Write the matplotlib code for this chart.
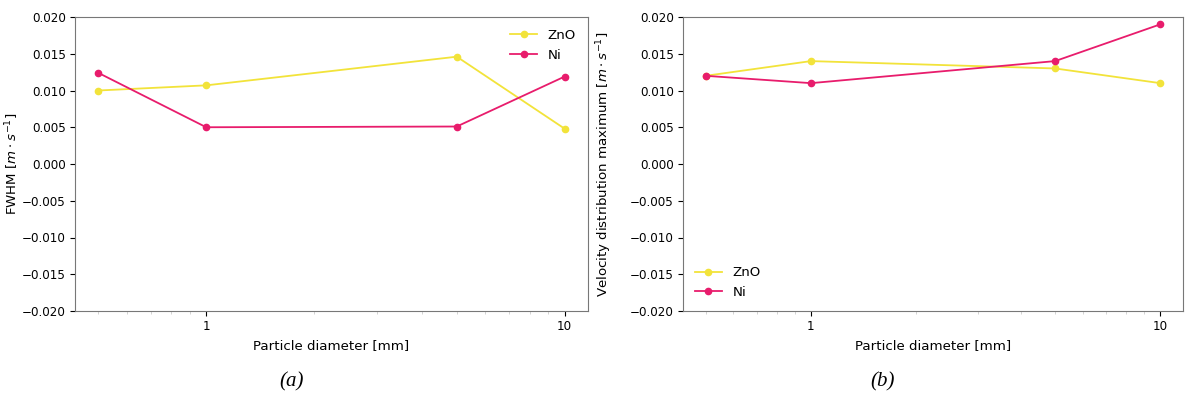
import matplotlib
matplotlib.use("Agg")
import matplotlib.pyplot as plt

diametro = [0.5, 1, 5, 10]

fwhm_zno = [0.0100, 0.0107, 0.0146, 0.0048]
fwhm_ni = [0.0124, 0.0050, 0.0051, 0.0119]

vmax_zno = [0.0120, 0.0140, 0.0130, 0.0110]
vmax_ni = [0.0120, 0.0110, 0.0140, 0.0190]

color_zno = '#f2e33a'
color_ni = '#e81c6c'

plt.rcParams['font.size'] = 9

fig = plt.figure(figsize=(11.87, 4.0), dpi=100)
ax1 = fig.add_axes([75 / 1187, 89 / 400, 513 / 1187, 294 / 400])
ax2 = fig.add_axes([683 / 1187, 89 / 400, 500 / 1187, 294 / 400])

def panel(ax, zno, ni, ylabel, loc, xlab):
    ax.plot(diametro, zno, '-o', color=color_zno, ms=4.5, lw=1.3, label='ZnO')
    ax.plot(diametro, ni, '-o', color=color_ni, ms=4.5, lw=1.3, label='Ni')
    ax.set_xscale('log')
    ax.set_ylim(-0.02, 0.02)
    ax.set_yticks([-0.02, -0.015, -0.01, -0.005, 0, 0.005, 0.01, 0.015, 0.02])
    ax.set_xticks([1, 10])
    ax.set_xticklabels(['1', '10'])
    ax.tick_params(axis='both', labelsize=8.6, pad=3)
    ax.set_xlabel('Particle diameter [mm]', fontsize=9.6)
    ax.set_ylabel(ylabel, fontsize=9.6)
    ax.yaxis.set_label_coords(xlab, 0.5)
    for s in ax.spines.values():
        s.set_color('#777777')
    ax.tick_params(which='minor', color='#cccccc')
    ax.legend(loc=loc, frameon=False, fontsize=9.6)

panel(ax1, fwhm_zno, fwhm_ni, r'FWHM $[m \cdot s^{-1}]$', 'upper right', -0.105)
panel(ax2, vmax_zno, vmax_ni, r'Velocity distribution maximum $[m \cdot s^{-1}]$',
      'lower left', -0.138)

fig.text(292 / 1187, 1 - 382 / 400, '(a)', family='Liberation Serif', style='italic',
         fontsize=15, ha='center', va='center')
fig.text(883 / 1187, 1 - 382 / 400, '(b)', family='Liberation Serif', style='italic',
         fontsize=15, ha='center', va='center')

fig.savefig('out.png', dpi=100)
